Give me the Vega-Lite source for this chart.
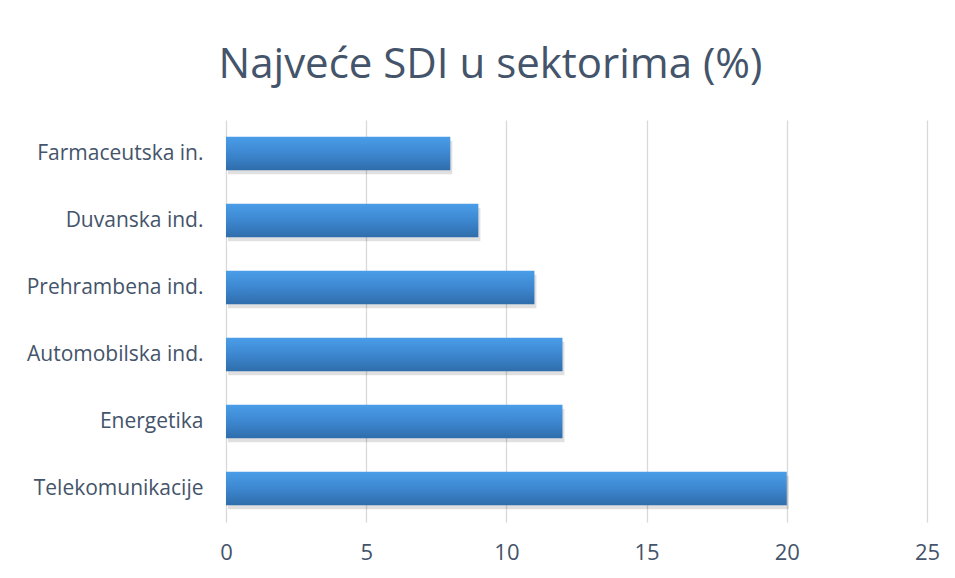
{
  "$schema": "https://vega.github.io/schema/vega-lite/v6.json",
  "autosize": {"type": "none"},
  "width": 701,
  "height": 402,
  "padding": {"left": 226, "top": 120, "right": 28, "bottom": 56},
  "background": "white",
  "title": {
    "text": "Najveće SDI u sektorima (%)",
    "font": "Open Sans",
    "fontSize": 42,
    "fontWeight": "normal",
    "color": "#44546a",
    "anchor": "middle",
    "baseline": "alphabetic",
    "dx": -86,
    "offset": 0
  },
  "data": {
    "values": [
      {"sektor": "Farmaceutska in.", "vrijednost": 8},
      {"sektor": "Duvanska ind.", "vrijednost": 9},
      {"sektor": "Prehrambena ind.", "vrijednost": 11},
      {"sektor": "Automobilska ind.", "vrijednost": 12},
      {"sektor": "Energetika", "vrijednost": 12},
      {"sektor": "Telekomunikacije", "vrijednost": 20}
    ]
  },
  "encoding": {
    "y": {
      "field": "sektor",
      "type": "nominal",
      "sort": null,
      "scale": {"paddingInner": 0.5, "paddingOuter": 0.25},
      "axis": {
        "title": null,
        "ticks": false,
        "domain": false,
        "labelFont": "Open Sans",
        "labelFontSize": 21,
        "labelColor": "#44546a",
        "labelPadding": 23
      }
    },
    "x": {
      "field": "vrijednost",
      "type": "quantitative",
      "scale": {"domain": [0, 25], "nice": false},
      "axis": {
        "title": null,
        "values": [0, 5, 10, 15, 20, 25],
        "ticks": false,
        "domain": false,
        "grid": true,
        "gridColor": "#d9d9d9",
        "gridWidth": 1.3,
        "labelFont": "Open Sans",
        "labelFontSize": 22,
        "labelColor": "#44546a",
        "labelPadding": 20,
        "labelFlush": false
      }
    }
  },
  "layer": [
    {
      "mark": {
        "type": "bar",
        "fill": "#000000",
        "fillOpacity": 0.12,
        "yOffset": 4,
        "xOffset": 2
      }
    },
    {
      "mark": {
        "type": "bar",
        "fill": {
          "gradient": "linear",
          "x1": 0, "y1": 0, "x2": 0, "y2": 1,
          "stops": [
            {"offset": 0, "color": "#4a9de8"},
            {"offset": 0.5, "color": "#3d87d0"},
            {"offset": 1, "color": "#2f6dab"}
          ]
        }
      }
    }
  ],
  "config": {"view": {"stroke": null}}
}
